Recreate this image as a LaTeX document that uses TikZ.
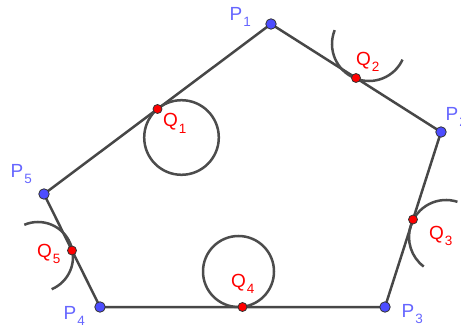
\documentclass[tikz,border=0pt]{standalone}
\usepackage{fontspec}
\setmainfont{Liberation Sans}
\usetikzlibrary{calc}
\definecolor{ptblue}{RGB}{77,77,255}
\definecolor{lblblue}{RGB}{102,102,255}
\definecolor{qred}{RGB}{255,0,0}
\newcommand{\sublbl}[2]{#1\kern1pt\raisebox{-6pt}{\fontsize{13.5}{14}\selectfont #2}}

\begin{document}
\begin{tikzpicture}[x=1pt,y=1pt,
  edge/.style={line width=2.5pt, draw=black!72, line join=round},
  ring/.style={line width=2.5pt, draw=black!70},
  pdot/.style={circle, fill=ptblue, draw=black!80, line width=0.8pt, inner sep=0pt, minimum size=10.5pt},
  qdot/.style={circle, fill=qred, draw=black!80, line width=0.8pt, inner sep=0pt, minimum size=9pt},
  plbl/.style={anchor=base west, inner sep=0pt, text=lblblue, font=\fontsize{19}{20}\selectfont},
  qlbl/.style={anchor=base west, inner sep=0pt, text=qred, font=\fontsize{19}{20}\selectfont}]
\clip (0,0) rectangle (461,330);

% vertices and midpoints
\coordinate (P1) at (271,306);
\coordinate (P2) at (441,198);
\coordinate (P3) at (385,23);
\coordinate (P4) at (100,23);
\coordinate (P5) at (44,136);
\coordinate (Q1) at ($(P5)!0.5!(P1)$);
\coordinate (Q2) at ($(P1)!0.5!(P2)$);
\coordinate (Q3) at ($(P2)!0.5!(P3)$);
\coordinate (Q4) at ($(P3)!0.5!(P4)$);
\coordinate (Q5) at ($(P4)!0.5!(P5)$);

% circle centres
\coordinate (C1) at (181.5,192.5);
\coordinate (C2) at (369,286);
\coordinate (C3) at (446,93);
\coordinate (C4) at (238.5,58.5);
\coordinate (C5) at (38,73);

\draw[edge] (P1) -- (P2) -- (P3) -- (P4) -- (P5) -- cycle;

\draw[ring] (C1) circle[radius=37.3pt];
\draw[ring] (C4) circle[radius=35.5pt];
\draw[ring] ($(C2)+(158:37pt)$) arc[start angle=158, end angle=335, radius=37pt];
\draw[ring] ($(C3)+(72:37pt)$) arc[start angle=72, end angle=233, radius=37pt];
\draw[ring] ($(C5)+(113:35pt)$) arc[start angle=113, end angle=-67, radius=35pt];

\node[pdot] (p1) at (P1) {};
\node[pdot] (p2) at (P2) {};
\node[pdot] (p3) at (P3) {};
\node[pdot] (p4) at (P4) {};
\node[pdot] (p5) at (P5) {};
\node[qdot] (q1) at (Q1) {};
\node[qdot] (q2) at (Q2) {};
\node[qdot] (q3) at (Q3) {};
\node[qdot] (q4) at (Q4) {};
\node[qdot] (q5) at (Q5) {};

\node[plbl] (lp1) at (229.5,309) {\sublbl{P}{1}};
\node[plbl] (lp2) at (445.5,209) {\sublbl{P}{2}};
\node[plbl] (lp3) at (401.5,13) {\sublbl{P}{3}};
\node[plbl] (lp4) at (63.5,11) {\sublbl{P}{4}};
\node[plbl] (lp5) at (10.5,153) {\sublbl{P}{5}};
\node[qlbl] (lq1) at (163,203) {\sublbl{Q}{1}};
\node[qlbl] (lq2) at (356,264) {\sublbl{Q}{2}};
\node[qlbl] (lq3) at (429,91) {\sublbl{Q}{3}};
\node[qlbl] (lq4) at (231,43) {\sublbl{Q}{4}};
\node[qlbl] (lq5) at (37,73) {\sublbl{Q}{5}};
\end{tikzpicture}
\end{document}
